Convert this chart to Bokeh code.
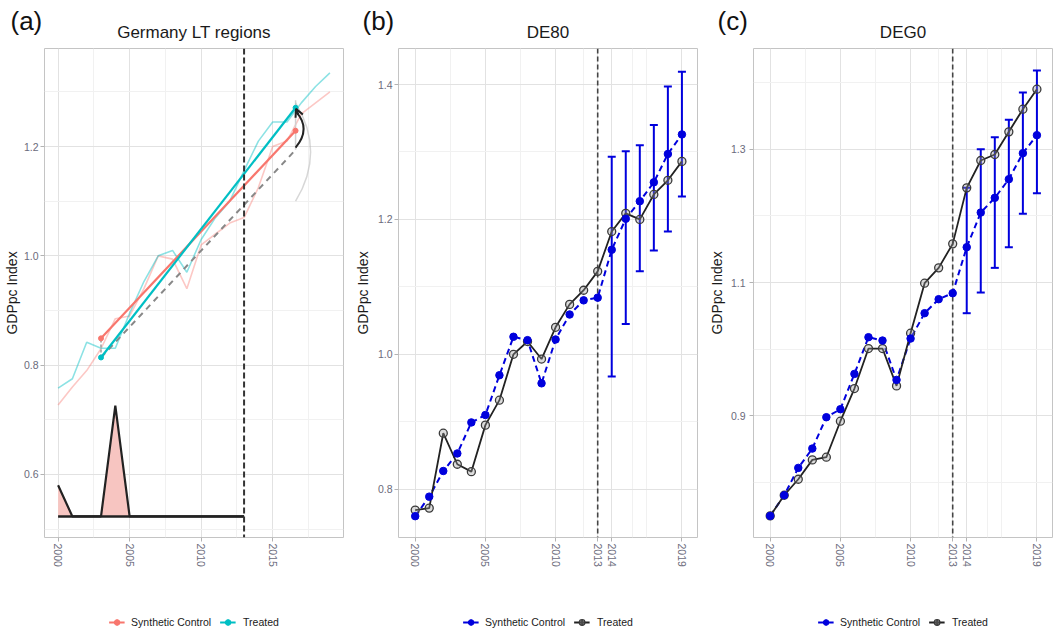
from bokeh.plotting import figure
from bokeh.models import (FixedTicker, Span, Whisker, TeeHead, ColumnDataSource, Legend,
                          LegendItem, Label, Arrow, OpenHead, Range1d, PrintfTickFormatter)
from bokeh.layouts import row, column
from bokeh.embed import file_html
from bokeh.resources import INLINE

# ---------------- data ----------------
years = list(range(2000, 2020))

# panel (a)
a_synth = [0.727, 0.760, 0.790, 0.830, 0.885, 0.890, 0.940, 1.000, 0.994, 0.940,
           1.020, 1.040, 1.060, 1.070, 1.125, 1.200, 1.210, 1.260, 1.280, 1.300]
a_treated = [0.758, 0.775, 0.842, 0.831, 0.831, 0.895, 0.953, 1.000, 1.010, 0.970,
             1.030, 1.070, 1.100, 1.156, 1.210, 1.245, 1.245, 1.280, 1.310, 1.335]
a_trend_x = [2003, 2016.6]
a_trend_synth = [0.849, 1.229]
a_trend_treated = [0.814, 1.271]
a_trend_cf = [0.814, 1.194]
a_arc_y = [1.100, 1.280]
a_gap_years = list(range(2000, 2014))
a_gap_values = [0.580, 0.523, 0.523, 0.523, 0.726, 0.523, 0.523, 0.523, 0.523,
                0.523, 0.523, 0.523, 0.523, 0.523]
a_gap_base = 0.523

# panel (b) DE80
b_treated = [0.769, 0.772, 0.883, 0.837, 0.826, 0.895, 0.932, 1.000, 1.019, 0.993,
             1.040, 1.074, 1.095, 1.123, 1.182, 1.209, 1.200, 1.237, 1.258, 1.286]
b_synth = [0.760, 0.789, 0.827, 0.853, 0.899, 0.910, 0.969, 1.026, 1.021, 0.957,
           1.022, 1.059, 1.080, 1.084, 1.155, 1.201, 1.227, 1.255, 1.297, 1.326]
err_years = [2014, 2015, 2016, 2017, 2018, 2019]
b_upper = [1.293, 1.301, 1.310, 1.340, 1.397, 1.419]
b_lower = [0.967, 1.045, 1.123, 1.154, 1.182, 1.234]

# panel (c) DEG0
c_treated = [0.750, 0.781, 0.805, 0.834, 0.838, 0.892, 0.941, 1.001, 1.001, 0.945,
             1.024, 1.099, 1.122, 1.158, 1.242, 1.283, 1.292, 1.326, 1.360, 1.390]
c_synth = [0.750, 0.781, 0.822, 0.851, 0.898, 0.910, 0.963, 1.018, 1.013, 0.954,
           1.016, 1.054, 1.075, 1.084, 1.153, 1.205, 1.227, 1.255, 1.294, 1.321]
c_upper = [1.242, 1.300, 1.318, 1.344, 1.385, 1.418]
c_lower = [1.054, 1.085, 1.122, 1.153, 1.203, 1.234]

treat_year = 2013
a_xticks = [2000, 2005, 2010, 2015]
a_xminor = [2002.5, 2007.5, 2012.5, 2017.5]
bc_xticks = [2000, 2005, 2010, 2013, 2014, 2019]
bc_xminor = [2002.5, 2007.5, 2012, 2015.5, 2016.5]
a_yticks = [0.6, 0.8, 1.0, 1.2]
a_yminor = [0.5, 0.7, 0.9, 1.1, 1.3]
b_yticks = [0.8, 1.0, 1.2, 1.4]
b_yminor = [0.9, 1.1, 1.3]
c_yticks = [0.9, 1.1, 1.3]
c_yminor = [0.8, 1.0, 1.2, 1.4]

panel_tags = ["(a)", "(b)", "(c)"]
panel_titles = ["Germany LT regions", "DE80", "DEG0"]

# ---------------- style ----------------
FONT = "Liberation Sans"
PINK = "#F8766D"
CYAN = "#00BFC4"
BLUE = "#0000DD"
DARK = "#222222"
TICKC = "#6b6b7b"
FRAME_W, FRAME_H = 299, 489
TOP_H, MAIN_H, LEG_H = 48, 552, 30
TOTAL_W = 1053


def strip_fig(width, height, left=0, right=0):
    p = figure(width=width, height=height, x_range=Range1d(0, width), y_range=Range1d(height, 0),
               x_axis_type=None, y_axis_type=None, output_backend="svg", toolbar_location=None,
               min_border_left=left, min_border_right=right, min_border_top=0, min_border_bottom=0)
    p.outline_line_color = None
    p.xgrid.visible = False
    p.ygrid.visible = False
    return p


def make_fig(width, left, right, xr, yr):
    p = figure(width=width, height=MAIN_H, x_range=Range1d(*xr), y_range=Range1d(*yr),
               output_backend="svg", toolbar_location=None,
               min_border_left=left, min_border_right=right,
               min_border_top=0, min_border_bottom=MAIN_H - FRAME_H)
    p.outline_line_color = "#c4c4c4"
    p.background_fill_color = "white"
    return p


def style_axes(p, xt, xm, yt, ym, lab_standoff, axlab_standoff):
    xtk = FixedTicker(ticks=xt, minor_ticks=xm)
    ytk = FixedTicker(ticks=yt, minor_ticks=ym)
    p.xaxis.ticker = xtk
    p.xgrid.ticker = xtk
    p.yaxis.ticker = ytk
    p.ygrid.ticker = ytk
    p.yaxis.formatter = PrintfTickFormatter(format="%.1f")
    for g in (p.xgrid, p.ygrid):
        g.grid_line_color = "#e2e2e2"
        g.grid_line_width = 1
        g.minor_grid_line_color = "#f1f1f1"
        g.minor_grid_line_width = 1
    for ax in (p.xaxis, p.yaxis):
        ax.axis_line_color = None
        ax.major_tick_line_color = "#b3b3b3"
        ax.major_tick_out = 4
        ax.major_tick_in = 0
        ax.minor_tick_out = 0
        ax.minor_tick_in = 0
        ax.major_label_text_font = FONT
        ax.major_label_text_font_size = "10.5px"
        ax.major_label_text_color = TICKC
    p.xaxis.major_label_orientation = "vertical"
    p.xaxis.major_label_standoff = 2
    p.yaxis.axis_label = "GDPpc Index"
    p.yaxis.axis_label_text_font = FONT
    p.yaxis.axis_label_text_font_size = "14px"
    p.yaxis.axis_label_text_font_style = "normal"
    p.yaxis.axis_label_text_color = "#1a1a1a"
    p.yaxis.major_label_standoff = lab_standoff
    p.yaxis.axis_label_standoff = axlab_standoff


def legend_strip(width, left, right, spec):
    lf = strip_fig(width, LEG_H, left, right)
    items = []
    for label, color, dash, filled in spec:
        nx = [float("nan"), float("nan")]
        r_l = lf.line(nx, nx, line_color=color, line_width=2, line_dash=dash)
        r_x = lf.scatter(nx, nx, marker="cross", size=10, line_width=2, color=color)
        if filled:
            r_p = lf.scatter(nx, nx, marker="circle", size=5, color=color)
        else:
            r_p = lf.scatter(nx, nx, marker="circle", size=6, line_color="#3a3a3a",
                             line_width=1.3, fill_color="#9a9a9a", fill_alpha=0.35)
        items.append(LegendItem(label=label, renderers=[r_l, r_x, r_p]))
    lg = Legend(items=items, orientation="horizontal", location="bottom_center")
    lg.label_text_font = FONT
    lg.label_text_font_size = "10.5px"
    lg.label_text_color = "#1a1a1a"
    lg.border_line_color = None
    lg.background_fill_alpha = 0
    lg.padding = 2
    lg.margin = 1
    lg.spacing = 9
    lg.glyph_width = 16
    lg.glyph_height = 14
    lg.label_height = 14
    lg.label_standoff = 7
    lf.add_layout(lg, "center")
    return lf


# ---------------- panel geometry ----------------
W_A, L_A, R_A = 350, 44, 7
W_B, L_B, R_B = 350, 48, 3
W_C, L_C, R_C = 353, 53, 1

# ---------------- panel (a) ----------------
xr_a = (1999.05, 2019.95)
yr_a = (0.4845, 1.3795)
pa = make_fig(W_A, L_A, R_A, xr_a, yr_a)
style_axes(pa, a_xticks, a_xminor, a_yticks, a_yminor, 2, 1)

pa.line(years, a_synth, line_color=PINK, line_alpha=0.4, line_width=1.6)
pa.line(years, a_treated, line_color=CYAN, line_alpha=0.45, line_width=1.6)

pa.varea(x=a_gap_years, y1=[a_gap_base] * len(a_gap_years), y2=a_gap_values,
         fill_color="#F7C5C1", fill_alpha=1)
pa.line([a_gap_years[0], a_gap_years[-1]], [a_gap_base, a_gap_base], line_color=DARK, line_width=2.5)
pa.line(a_gap_years, a_gap_values, line_color=DARK, line_width=2.2)

# counterfactual trend and gap markers
pa.line(a_trend_x, a_trend_cf, line_color="#888888", line_width=2, line_dash="6 5")
pa.line([a_trend_x[0], a_trend_x[0]], [a_trend_treated[0], a_trend_synth[0]],
        line_color="#9a9a9a", line_width=1.5, line_dash="3 2")
pa.line([a_trend_x[1], a_trend_x[1]], [a_trend_cf[1], a_arc_y[1] + 0.005],
        line_color="#d0d0d0", line_width=1.5)
pa.quadratic(x0=[a_trend_x[1]], y0=[a_arc_y[0]], x1=[a_trend_x[1]], y1=[a_arc_y[1]],
             cx=[a_trend_x[1] + 2.1], cy=[(a_arc_y[0] + a_arc_y[1]) / 2],
             line_color="#bdbdbd", line_alpha=0.6, line_width=1.5)

pa.line(a_trend_x, a_trend_synth, line_color=PINK, line_width=2.2)
pa.scatter(a_trend_x, a_trend_synth, color=PINK, size=5)
pa.line(a_trend_x, a_trend_treated, line_color=CYAN, line_width=2.2)
pa.scatter(a_trend_x, a_trend_treated, color=CYAN, size=5)

# curved arrow from counterfactual to treated
ax0, ay0 = a_trend_x[1], a_trend_cf[1] + 0.004
ax1, ay1 = a_trend_x[1] + 0.05, a_trend_treated[1] - 0.008
acx, acy = a_trend_x[1] + 1.1, (a_trend_cf[1] + a_trend_treated[1]) / 2
pa.quadratic(x0=[ax0], y0=[ay0], x1=[ax1], y1=[ay1], cx=[acx], cy=[acy],
             line_color=DARK, line_width=2)
pa.add_layout(Arrow(end=OpenHead(size=8, line_color=DARK, line_width=2),
                    x_start=ax1 + (acx - ax1) * 0.15, y_start=ay1 + (acy - ay1) * 0.15,
                    x_end=ax1 - 0.02, y_end=ay1 + 0.006, line_color=DARK, line_width=2))

pa.add_layout(Span(location=treat_year, dimension="height", line_color="#333333",
                   line_width=2, line_dash="6 3"))

la = legend_strip(W_A, L_A, R_A, [("Synthetic Control", PINK, "solid", True),
                                  ("Treated", CYAN, "solid", True)])


# ---------------- panels (b), (c) ----------------
def sc_panel(width, left, right, yr, treated, synth, upper, lower, yt, ym, lab_so, axlab_so):
    xr = (1998.81, 2020.11)
    p = make_fig(width, left, right, xr, yr)
    style_axes(p, bc_xticks, bc_xminor, yt, ym, lab_so, axlab_so)
    p.add_layout(Span(location=treat_year, dimension="height", line_color="#444444",
                      line_width=1.6, line_dash="5 3", level="underlay"))
    src = ColumnDataSource(dict(base=err_years, upper=upper, lower=lower))
    p.add_layout(Whisker(source=src, base="base", upper="upper", lower="lower",
                         line_color=BLUE, line_width=2,
                         upper_head=TeeHead(size=8, line_color=BLUE, line_width=2),
                         lower_head=TeeHead(size=8, line_color=BLUE, line_width=2)))
    p.line(years, synth, line_color=BLUE, line_width=2, line_dash="6 4")
    p.line(years, treated, line_color=DARK, line_width=1.8)
    p.scatter(years, treated, marker="circle", size=8, line_color="#3a3a3a",
              line_width=1.3, fill_color="#9a9a9a", fill_alpha=0.35)
    p.scatter(years, synth, marker="circle", size=7.5, color=BLUE)
    return p


pb = sc_panel(W_B, L_B, R_B, (0.7284, 1.4534), b_treated, b_synth, b_upper, b_lower,
              b_yticks, b_yminor, 2, 4)
pc = sc_panel(W_C, L_C, R_C, (0.7176, 1.4510), c_treated, c_synth, c_upper, c_lower,
              c_yticks, c_yminor, 4, 3)
bc_spec = [("Synthetic Control", BLUE, "solid", True), ("Treated", DARK, "solid", False)]
lb = legend_strip(W_B, L_B, R_B, bc_spec)
lc = legend_strip(W_C, L_C, R_C, bc_spec)

# ---------------- header strip (panel tags and titles) ----------------
header = strip_fig(TOTAL_W, TOP_H)
origins = [0, W_A, W_A + W_B]
lefts = [L_A, L_B, L_C]
tag_x = [10, W_A + 12, W_A + W_B + 17]
for tag, ttl, ox, lf, tx in zip(panel_tags, panel_titles, origins, lefts, tag_x):
    header.add_layout(Label(x=tx, y=20, text=tag, text_font=FONT, text_font_size="26px",
                            text_align="left", text_baseline="middle", text_color="#111111"))
    header.add_layout(Label(x=ox + lf + FRAME_W / 2, y=32, text=ttl, text_font=FONT,
                            text_font_size="17px", text_align="center", text_baseline="middle",
                            text_color="#1a1a1a"))

layout = column(header, row(column(pa, la), column(pb, lb), column(pc, lc)))
open("out.html", "w").write(file_html(layout, INLINE, "Synthetic control"))
